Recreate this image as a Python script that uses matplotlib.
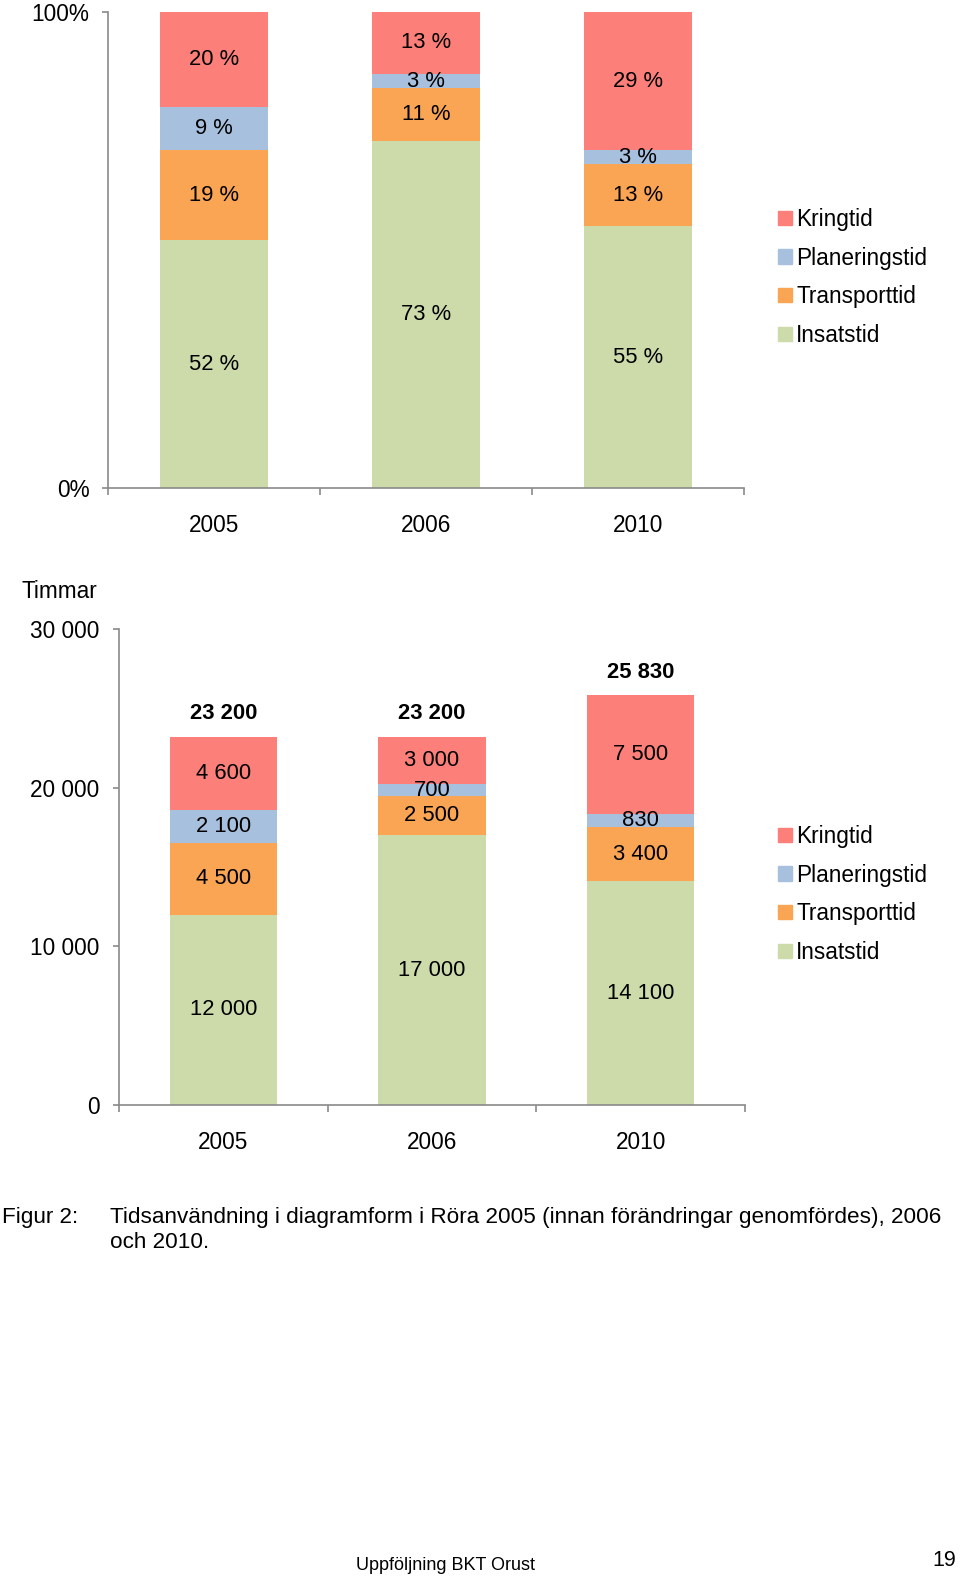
import numpy as np
import matplotlib
matplotlib.use("Agg")
import matplotlib.pyplot as plt
import matplotlib.patches as mpatches
from matplotlib.ticker import FuncFormatter

plt.rcParams["font.family"] = ["Liberation Sans", "DejaVu Sans"]

FONT_SIZE = 16.3
GREY = "#8a8a8a"
W, H = 960, 1578

years = ["2005", "2006", "2010"]
series = ["Insatstid", "Transporttid", "Planeringstid", "Kringtid"]
colors = ["#CDDBAA", "#F9A554", "#A7C0DE", "#FC7F79"]

# percent shares (top chart)
pct_insats = [52, 73, 55]
pct_transport = [19, 11, 13]
pct_planering = [9, 3, 3]
pct_kring = [20, 13, 29]

# hours (bottom chart)
h_insats = [12000, 17000, 14100]
h_transport = [4500, 2500, 3400]
h_planering = [2100, 700, 830]
h_kring = [4600, 3000, 7500]


def fmt(v):
    return f"{v:,}".replace(",", " ")


def px_axes(fig, left, top, right, bottom):
    return fig.add_axes([left / W, 1 - bottom / H, (right - left) / W, (bottom - top) / H])


def style_axes(ax, ypad):
    x = np.arange(len(years))
    ax.set_xlim(-0.5, len(years) - 0.5)
    for s in ["top", "right"]:
        ax.spines[s].set_visible(False)
    for s in ["left", "bottom"]:
        ax.spines[s].set_color(GREY)
        ax.spines[s].set_linewidth(1.2)
    ax.set_xticks(np.arange(len(years) + 1) - 0.5)
    ax.set_xticklabels([])
    ax.set_xticks(x, minor=True)
    ax.set_xticklabels(years, minor=True, fontsize=FONT_SIZE)
    ax.tick_params(axis="x", which="major", length=5, color=GREY, width=1.2)
    ax.tick_params(axis="x", which="minor", length=0, pad=19)
    ax.tick_params(axis="y", length=4.5, color=GREY, width=1.2, pad=ypad, labelsize=FONT_SIZE)


def stacked(ax, data, width, label_fn):
    x = np.arange(len(years))
    bottom = np.zeros(len(years))
    conts = []
    for name, vals, c in zip(series, data, colors):
        bc = ax.bar(x, vals, width, bottom=bottom, color=c, label=name, linewidth=0)
        ax.bar_label(bc, labels=[label_fn(v) for v in vals], label_type="center",
                     fontsize=FONT_SIZE - 0.5)
        bottom = bottom + np.array(vals)
        conts.append(bc)
    return conts, bottom


def add_legend(fig, top_px):
    handles = [mpatches.Patch(color=c, label=n) for n, c in zip(series, colors)][::-1]
    fig.legend(handles=handles, loc="upper left",
               bbox_to_anchor=(778 / W, 1 - top_px / H), frameon=False,
               fontsize=FONT_SIZE, handlelength=0.6, handleheight=0.6,
               handletextpad=0.2, labelspacing=0.69, borderpad=0, borderaxespad=0)


fig = plt.figure(figsize=(W / 100, H / 100), dpi=100)

# top chart: percent
ax1 = px_axes(fig, 107.5, 12, 744.5, 488)
stacked(ax1, [pct_insats, pct_transport, pct_planering, pct_kring], 0.51, lambda v: f"{v} %")
ax1.set_ylim(0, 100)
ax1.set_yticks([0, 100])
ax1.set_yticklabels(["0%", "100%"])
style_axes(ax1, 8.5)
add_legend(fig, 208)

# bottom chart: hours
ax2 = px_axes(fig, 119, 629, 745, 1105)
conts, totals = stacked(ax2, [h_insats, h_transport, h_planering, h_kring], 0.515, fmt)
ax2.bar_label(conts[-1], labels=[fmt(int(t)) for t in totals], padding=9,
              fontsize=FONT_SIZE - 0.5, fontweight="bold")
ax2.set_ylim(0, 30000)
ax2.set_yticks([0, 10000, 20000, 30000])
ax2.yaxis.set_major_formatter(FuncFormatter(lambda v, p: fmt(int(v))))
style_axes(ax2, 9.5)
add_legend(fig, 825)
fig.text(22 / W, 1 - 592 / H, "Timmar", fontsize=FONT_SIZE, va="center", ha="left")

# caption and footer
fig.text(2 / W, 1 - 1217 / H, "Figur 2:", fontsize=16.2, va="center")
fig.text(110 / W, 1 - 1217 / H,
         "Tidsanvändning i diagramform i Röra 2005 (innan förändringar genomfördes), 2006",
         fontsize=16.2, va="center")
fig.text(110 / W, 1 - 1243 / H, "och 2010.", fontsize=16.2, va="center")
fig.text(446 / W, 1 - 1565 / H, "Uppföljning BKT Orust", fontsize=13, va="center", ha="center")
fig.text(956 / W, 1 - 1560 / H, "19", fontsize=15.5, va="center", ha="right")

plt.savefig("out.png", dpi=100)
plt.close()
